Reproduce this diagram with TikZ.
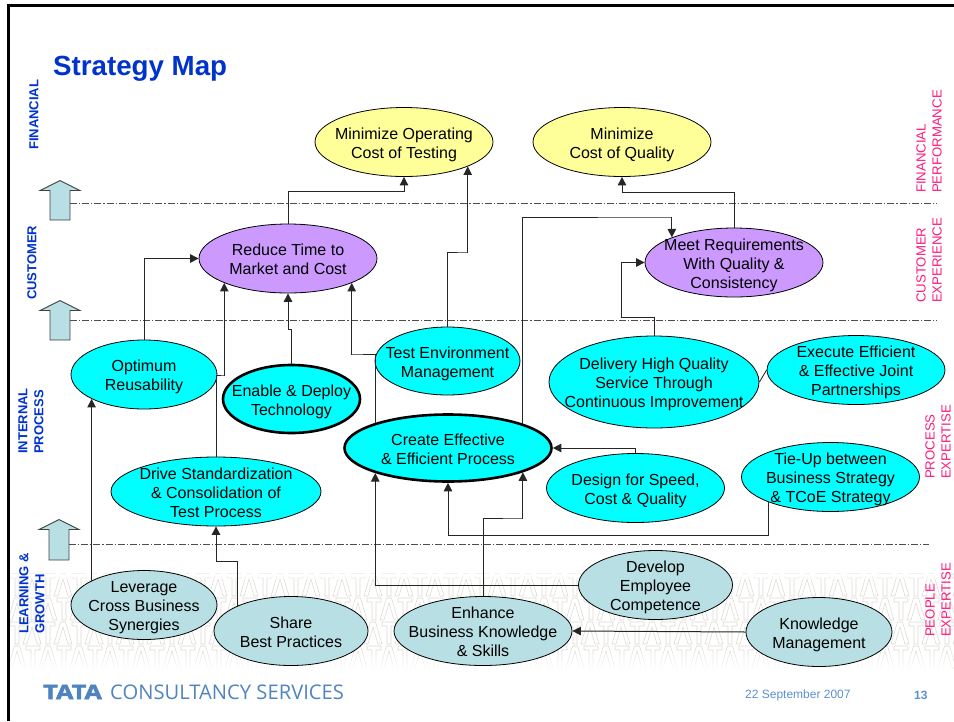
\documentclass[tikz,border=0pt]{standalone}
\usepackage{fontspec}
\setmainfont{Liberation Sans}
\newfontfamily\logofont{Open Sans}
\newfontfamily\logoheavy[BoldFeatures={FakeBold=2.5}]{Open Sans}
\usetikzlibrary{shapes.geometric,arrows.meta,fadings}
\definecolor{yel}{HTML}{FFFF99}
\definecolor{pur}{HTML}{CC99FF}
\definecolor{cya}{HTML}{00FFFF}
\definecolor{tea}{HTML}{B8DFE3}
\definecolor{titleblue}{HTML}{0033CC}
\definecolor{pinkl}{HTML}{FF1A7A}
\definecolor{foot}{HTML}{5B8FD0}
\definecolor{logob}{HTML}{4F84BF}
\definecolor{patt}{HTML}{DDDAD3}
\newcommand\lbl[1]{\smash{\makebox[0pt]{\raisebox{-7.2pt}{\fontsize{16}{19.2}\selectfont\begin{tabular}{@{}c@{}}#1\end{tabular}}}}}
\tikzset{
  ell/.style={ellipse,draw=black,line width=.8pt,inner sep=0pt},
  thickell/.style={ell,line width=2.6pt},
  big/.style={minimum width=178pt,minimum height=69pt},
  mid/.style={minimum width=146pt,minimum height=69pt},
  share/.style={minimum width=154pt,minimum height=69pt},
  wide/.style={minimum width=210pt,minimum height=69pt},
  conn/.style={draw=black!85,line width=1pt,-{Triangle[length=8.5pt,width=8.5pt]}},
  plainc/.style={draw=black!85,line width=.85pt},
  band/.style={draw=black!70,line width=.7pt,dash pattern=on 7pt off 2pt on 1.2pt off 2pt},
  upa/.style={draw=black!75,line width=.9pt,fill=tea},
  leftl/.style={rotate=90,anchor=west,align=left,text=titleblue,inner sep=0pt,font=\fontsize{13}{16}\selectfont\bfseries},
  rightl/.style={rotate=90,anchor=west,align=left,text=pinkl,inner sep=0pt,font=\fontsize{13.2}{16}\selectfont},
  tt/.pic={\draw[patt,line width=.55pt,fill=white]
     (0,0)--(14,0)--(14,-4)--(9,-4)--(9,-22)--(5,-22)--(5,-4)--(0,-4)--cycle
     (13,-22)--(19.5,0)--(24.5,0)--(31,-22)--(27,-22)--(22,-5)--(17,-22)--cycle;}
}
\begin{document}
\begin{tikzpicture}[x=1pt,y=1pt]
\useasboundingbox (0,0) rectangle (954,-721);
% watermark band
\begin{scope}
\clip (10,-570) rectangle (954,-672);
\foreach \r/\yy/\off in {0/574/0,1/598/-15,2/622/0,3/646/-15}{
  \foreach \k in {0,...,32}{
    \pic at ({10+\off+\k*31},-\yy) {tt};
  }
}
\end{scope}
\fill[white,path fading=south] (10,-574) rectangle (954,-580);
\fill[white,path fading=north] (10,-648) rectangle (954,-670);
% frame
\draw[black,line width=3pt] (8,-721) -- (8,-5.3) -- (954,-5.3);
% bands
\draw[band] (70,-203.5) -- (937,-203.5);
\draw[band] (70,-320.5) -- (937,-320.5);
\draw[band] (69,-544.5) -- (929,-544.5);
% up arrows
\draw[upa] (60,-180.5)--(80,-190.5)--(70,-190.5)--(70,-220)--(50,-220)--(50,-190.5)--(40,-190.5)--cycle;
\draw[upa] (60,-300.5)--(80,-310.5)--(70,-310.5)--(70,-340)--(50,-340)--(50,-310.5)--(40,-310.5)--cycle;
\draw[upa] (59,-519.5)--(79,-529.5)--(69,-529.5)--(69,-560)--(49,-560)--(49,-529.5)--(39,-529.5)--cycle;
% title and labels
\node[anchor=west,inner sep=0pt,text=titleblue,font=\fontsize{27.7}{30}\selectfont\bfseries] (title) at (53,-68.5) {Strategy Map};
\node[leftl] (lfin) at (34,-150) {FINANCIAL};
\node[leftl] (lcus) at (32,-300) {CUSTOMER};
\node[leftl] (lint) at (31,-454) {INTERNAL\\PROCESS};
\node[leftl] (llea) at (32,-634) {LEARNING \&\\GROWTH};
\node[rightl] (rfin) at (929,-193) {FINANCIAL\\PERFORMANCE};
\node[rightl] (rcus) at (929,-303) {CUSTOMER\\EXPERIENCE};
\node[rightl] (rpro) at (938,-479) {PROCESS\\EXPERTISE};
\node[rightl] (rpeo) at (938,-637) {PEOPLE\\EXPERTISE};
% ellipses
\node[ell,big,fill=yel] (minop) at (404,-142) {\lbl{Minimize Operating\\Cost of Testing}};
\node[ell,big,fill=yel] (minq) at (622,-142) {\lbl{Minimize\\Cost of Quality}};
\node[ell,big,fill=pur] (reduce) at (288,-258.5) {\lbl{Reduce Time to\\Market and Cost}};
\node[ell,big,fill=pur] (meet) at (734,-262.5) {\lbl{Meet Requirements\\With Quality \&\\Consistency}};
\node[ell,mid,fill=cya] (optimum) at (144,-374.5) {\lbl{Optimum\\Reusability}};
\node[thickell,minimum width=137pt,minimum height=68pt,fill=cya] (enable) at (291.5,-399) {\lbl{Enable \& Deploy\\Technology}};
\node[ell,minimum width=145pt,minimum height=68pt,fill=cya] (testenv) at (447.5,-361) {\lbl{Test Environment\\Management}};
\node[ell,minimum width=210pt,minimum height=92pt,fill=cya] (delivery) at (654,-382) {\lbl{Delivery High Quality\\Service Through\\Continuous Improvement}};
\node[ell,big,fill=cya] (execute) at (856,-370) {\lbl{Execute Efficient\\\& Effective Joint\\Partnerships}};
\node[thickell,minimum width=207pt,minimum height=67pt,fill=cya] (create) at (448,-448) {\lbl{Create Effective\\\& Efficient Process}};
\node[ell,wide,fill=cya] (drive) at (216,-491.5) {\lbl{Drive Standardization\\\& Consolidation of\\Test Process}};
\node[ell,big,fill=cya] (design) at (635.5,-488) {\lbl{Design for Speed,\\Cost \& Quality}};
\node[ell,big,fill=cya] (tieup) at (830.5,-477) {\lbl{Tie-Up between\\Business Strategy\\\& TCoE Strategy}};
\node[ell,mid,fill=tea] (leverage) at (144,-605) {\lbl{Leverage\\Cross Business\\Synergies}};
\node[ell,share,fill=tea] (sharebp) at (291,-631) {\lbl{Share\\Best Practices}};
\node[ell,big,fill=tea] (enhance) at (483,-631) {\lbl{Enhance\\Business Knowledge\\\& Skills}};
\node[ell,share,fill=tea] (develop) at (655.5,-585) {\lbl{Develop\\Employee\\Competence}};
\node[ell,mid,fill=tea] (knowledge) at (819,-632) {\lbl{Knowledge\\Management}};
% connectors
\draw[conn] (reduce.north) |- (404,-191) -| (minop.south);
\draw[conn] (testenv.north) |- (467,-252) -| (minop.-21.6);
\draw[conn] (meet.north) |- (622,-192) -| (minq.south);
\draw[conn] (optimum.north) |- (reduce.west);
\draw[conn] (drive.north) |- (225,-375) -| (reduce.201.2);
\draw[conn] (enable.north) |- (288,-329) -| (reduce.south);
\draw[conn] (create.161.5) |- (351,-354) -| (reduce.-21.2);
\draw[conn] (create.18.7) |- (671,-217) -| (meet.158.8);
\draw[conn] (delivery.north) |- (621,-317) |- (meet.west);
\draw[plainc] (execute.west) -- (delivery.east);
\draw[conn] (design.north) |- (create.east);
\draw[conn] (tieup.-158.8) |- (448,-535) -| (create.south);
\draw[conn] (leverage.155.3) -- (optimum.-155);
\draw[conn] (sharebp.155.5) |- (216,-561) -| (drive.south);
\draw[conn] (develop.west) -| (create.-161.5);
\draw[conn] (enhance.north) |- (522,-518) -| (create.-18.7);
\draw[conn] (knowledge.west) -- (enhance.east);
% footer
\node[anchor=west,inner sep=0pt,text=logob,font=\logoheavy\bfseries\fontsize{20}{22}\selectfont] (tata) at (43,-692) {\scalebox{1.26}[1]{TATA}};
\node[anchor=west,inner sep=0pt,text=logob,font=\logofont\fontsize{20.2}{22}\selectfont] (tcs) at (110,-692) {CONSULTANCY SERVICES};
\node[anchor=west,inner sep=0pt,text=foot,font=\fontsize{12}{14}\selectfont] (date) at (745,-695) {22 September 2007};
\node[anchor=west,inner sep=0pt,text=foot,font=\fontsize{12}{14}\selectfont\bfseries] (pageno) at (914,-695) {13};
\end{tikzpicture}
\end{document}
